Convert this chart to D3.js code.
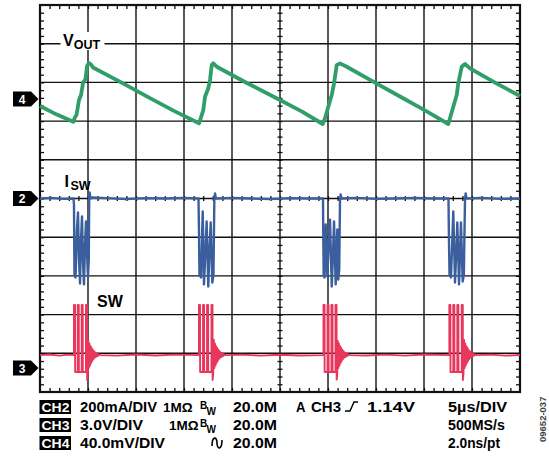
<!DOCTYPE html>
<html>
<head>
<meta charset="utf-8">
<script src="https://cdn.jsdelivr.net/npm/d3@7"></script>
<style>
  body { margin: 0; background: #fff; }
  svg text { font-family: "Liberation Sans", Arial, sans-serif; font-weight: bold; }
</style>
</head>
<body>
<svg id="scope" width="549" height="461"></svg>
<script>
// Scope settings (5 µs/div, 10 x 10 divisions).
const timeDomain = [0, 50];          // µs
const divDomain = [-5, 5];           // vertical divisions

// Channel ground markers (in divisions from screen centre) and scale per div.
const channelNames = ["4", "2", "3"];
const channelOffsets = [2.57, 0, -4.38];
const channelPerDiv = [40, 200, 3.0];   // mV, mA, V

// CH4: VOUT ripple [µs, mV]
const vout = [
  [0, -7.2], [1.7, -15.8], [3.47, -23.5], [3.65, -18.6], [3.8, -16.5], [3.96, -7.2], [4.06, -1.0],
  [4.27, 4.1], [4.48, 16.5], [4.74, 20.7], [4.9, 34.1], [5.1, 37.2], [5.31, 35.7], [5.52, 32.6],
  [8.5, 17.0], [11.46, 1.0], [14, -12.5], [16.56, -25.1], [16.74, -19.9], [17.01, -11.4], [17.19, 2.4],
  [17.53, 11.1], [17.71, 19.6], [17.89, 35.1], [18.05, 36.9], [18.41, 33.4], [21.5, 16.8],
  [25.0, -1.0], [27.3, -13.0], [29.45, -25.8], [29.69, -19.9], [30.03, -8.0], [30.39, 4.1],
  [30.63, 16.2], [30.91, 35.1], [31.25, 36.9], [31.95, 33.4], [34.8, 17.5], [37.5, 2.6],
  [40.1, -11.8], [42.53, -25.8], [42.71, -19.9], [43.05, -8.0], [43.41, 4.1], [43.57, 16.2],
  [43.93, 33.4], [44.27, 36.2], [44.79, 31.7], [47.4, 17.0], [50, 3.1]
];

// CH2: ISW [µs, mA]
const isw = [
  [0, 0], [1.2, 3], [2.4, -2], [3.49, 0],
  [3.54, -31], [3.59, -398], [3.7, -408], [3.85, -160], [3.96, -72], [4.06, -315], [4.17, -439],
  [4.27, -212], [4.375, -93], [4.48, -326], [4.58, -444], [4.69, -238], [4.79, -119], [4.9, -289],
  [5.0, -408], [5.08, -315], [5.125, -5], [5.17, 31], [5.26, 0], [5.42, 5],
  [7, 2], [9, -3], [11, 2], [13, 0], [15, 3], [16.51, 0],
  [16.56, -160], [16.61, -393], [16.77, -408], [16.95, -67], [17.08, -444], [17.24, -264],
  [17.36, -119], [17.53, -455], [17.66, -264], [17.78, -124], [17.95, -434], [18.07, -393],
  [18.16, -5], [18.23, 26], [18.33, 0],
  [20, 3], [22, 0], [24, -3], [26, 2], [28, 0], [29.48, 0],
  [29.51, -212], [29.55, -398], [29.64, -408], [29.76, -134], [29.93, -403], [30.05, -264],
  [30.21, -109], [30.39, -455], [30.52, -289], [30.63, -119], [30.8, -444], [30.97, -160],
  [31.07, -419], [31.17, -367], [31.25, -5], [31.32, 21], [31.41, 0],
  [33, 3], [35, -2], [37, 0], [39, 3], [41, 0], [42.55, 0],
  [42.6, -212], [42.66, -393], [42.81, -408], [43.05, -67], [43.23, -434], [43.37, -264],
  [43.47, -124], [43.65, -444], [43.75, -289], [43.85, -124], [44.03, -429], [44.15, -393],
  [44.27, -5], [44.34, 26], [44.43, 0],
  [46, 3], [48, -2], [50, 0]
];

// CH3: SW [µs, V]
const sw = [
  [0, 1.0], [1, 1.05], [2, 0.96], [3, 1.04], [3.54, 1.0],
  [3.54, 4.88], [3.65, 4.88], [3.66, -0.31], [3.93, -0.31], [3.93, 4.88], [4.04, 4.88], [4.05, -0.31],
  [4.34, -0.31], [4.34, 4.88], [4.45, 4.88], [4.46, -0.31], [4.79, -0.31], [4.79, 4.88], [4.9, 4.88],
  [4.91, -0.93], [4.97, -0.5], [5.03, 2.17], [5.09, 0.0], [5.15, 1.9], [5.21, 0.2], [5.27, 1.7],
  [5.33, 0.4], [5.39, 1.55], [5.45, 0.55], [5.51, 1.4], [5.57, 0.7], [5.63, 1.3], [5.69, 0.8],
  [5.75, 1.2], [5.81, 0.85], [5.87, 1.15], [5.93, 0.9], [5.99, 1.1], [6.05, 0.95], [6.15, 1.05], [6.3, 1.0],
  [8, 0.96], [10, 1.05], [12, 0.97], [14, 1.04], [16.56, 1.0],
  [16.56, 4.88], [16.67, 4.88], [16.68, -0.31], [16.98, -0.31], [16.98, 4.88], [17.09, 4.88], [17.1, -0.31],
  [17.4, -0.31], [17.4, 4.88], [17.51, 4.88], [17.52, -0.31], [17.86, -0.31], [17.86, 4.88], [17.97, 4.88],
  [17.98, -0.93], [18.04, -0.5], [18.1, 2.2], [18.16, 0.0], [18.22, 1.9], [18.28, 0.2], [18.34, 1.7],
  [18.4, 0.4], [18.46, 1.55], [18.52, 0.55], [18.58, 1.4], [18.64, 0.7], [18.7, 1.3], [18.76, 0.8],
  [18.82, 1.2], [18.88, 0.85], [18.94, 1.15], [19.0, 0.9], [19.06, 1.1], [19.12, 0.95], [19.22, 1.05], [19.4, 1.0],
  [21, 1.04], [23, 0.96], [25, 1.03], [27, 0.97], [29.53, 1.0],
  [29.53, 4.88], [29.64, 4.88], [29.65, -0.31], [29.95, -0.31], [29.95, 4.88], [30.06, 4.88], [30.07, -0.31],
  [30.36, -0.31], [30.36, 4.88], [30.47, 4.88], [30.48, -0.31], [30.78, -0.31], [30.78, 4.88], [30.89, 4.88],
  [30.9, -0.9], [30.96, -0.5], [31.02, 2.1], [31.08, 0.0], [31.14, 1.9], [31.2, 0.2], [31.26, 1.7],
  [31.32, 0.4], [31.38, 1.55], [31.44, 0.55], [31.5, 1.4], [31.56, 0.7], [31.62, 1.3], [31.68, 0.8],
  [31.74, 1.2], [31.8, 0.85], [31.86, 1.15], [31.92, 0.9], [31.98, 1.1], [32.04, 0.95], [32.14, 1.05], [32.3, 1.0],
  [34, 0.97], [36, 1.04], [38, 0.96], [40, 1.05], [42.64, 1.0],
  [42.64, 4.88], [42.75, 4.88], [42.76, -0.31], [43.05, -0.31], [43.05, 4.88], [43.16, 4.88], [43.17, -0.31],
  [43.47, -0.31], [43.47, 4.88], [43.58, 4.88], [43.59, -0.31], [43.93, -0.31], [43.93, 4.88], [44.04, 4.88],
  [44.05, -0.93], [44.11, -0.5], [44.17, 2.17], [44.23, 0.0], [44.29, 1.9], [44.35, 0.2], [44.41, 1.7],
  [44.47, 0.4], [44.53, 1.55], [44.59, 0.55], [44.65, 1.4], [44.71, 0.7], [44.77, 1.3], [44.83, 0.8],
  [44.89, 1.2], [44.95, 0.85], [45.01, 1.15], [45.07, 0.9], [45.13, 1.1], [45.19, 0.95], [45.29, 1.05], [45.45, 1.0],
  [47, 1.04], [48.5, 0.96], [50, 1.0]
];

// Readout text.
const chTags = ["CH2", "CH3", "CH4"];
const voltsDiv = ["200mA/DIV", "3.0V/DIV", "40.0mV/DIV"];
const impedance = ["1MΩ", "1MΩ", ""];
const bwLimit = ["20.0M", "20.0M", "20.0M"];
const timeInfo = ["5µs/DIV", "500MS/s", "2.0ns/pt"];

// Build scales.
const x = d3.scaleLinear().domain(timeDomain).range([40, 520]);
const yDiv = d3.scaleLinear().domain(divDomain).range([392, 5]);

const svg = d3.select('#scope');

// Grid.
const grid = svg.append('g').attr('stroke', '#111').attr('stroke-width', 1.4);
grid.selectAll('.vgrid')
  .data(d3.range(5, 50, 5))
  .join('line')
    .attr('x1', d => x(d)).attr('x2', d => x(d))
    .attr('y1', yDiv(5)).attr('y2', yDiv(-5));
grid.selectAll('.hgrid')
  .data(d3.range(-4, 5, 1))
  .join('line')
    .attr('x1', x(0)).attr('x2', x(50))
    .attr('y1', d => yDiv(d)).attr('y2', d => yDiv(d));

// Minor ticks (5 per division) on frame and centre axes.
const minorT = d3.range(1, 50, 1);
const minorV = d3.range(-4.8, 5, 0.2).map(d => +d.toFixed(1));

function noDomain(g) { g.select('.domain').remove(); g.selectAll('.tick line').attr('stroke', '#111').attr('stroke-width', 1.3); }

svg.append('g').attr('transform', `translate(0,${yDiv(5)})`)
  .call(d3.axisBottom(x).tickValues(minorT).tickSize(4).tickFormat(''))
  .call(noDomain);
svg.append('g').attr('transform', `translate(0,${yDiv(-5)})`)
  .call(d3.axisTop(x).tickValues(minorT).tickSize(4).tickFormat(''))
  .call(noDomain);
svg.append('g').attr('transform', `translate(${x(0)},0)`)
  .call(d3.axisRight(yDiv).tickValues(minorV).tickSize(4).tickFormat(''))
  .call(noDomain);
svg.append('g').attr('transform', `translate(${x(50)},0)`)
  .call(d3.axisLeft(yDiv).tickValues(minorV).tickSize(4).tickFormat(''))
  .call(noDomain);
// centre axes, ticks crossing the line
svg.append('g').attr('transform', `translate(0,${yDiv(0) - 2.5})`)
  .call(d3.axisBottom(x).tickValues(minorT).tickSize(5).tickFormat(''))
  .call(noDomain);
svg.append('g').attr('transform', `translate(${x(25) - 2.5},0)`)
  .call(d3.axisRight(yDiv).tickValues(minorV).tickSize(5).tickFormat(''))
  .call(noDomain);

// Frame.
svg.append('rect')
  .attr('x', x(0)).attr('y', yDiv(5))
  .attr('width', x(50) - x(0)).attr('height', yDiv(-5) - yDiv(5))
  .attr('fill', 'none').attr('stroke', '#111').attr('stroke-width', 2.2);

// Traces.
const traces = [
  {data: vout, ch: 0, color: '#2f9e68', width: 3.8},
  {data: isw, ch: 1, color: '#3b5f9e', width: 2.4},
  {data: sw, ch: 2, color: '#e8365c', width: 1.9}
];

traces.forEach(tr => {
  const line = d3.line()
    .x(d => x(d[0]))
    .y(d => yDiv(channelOffsets[tr.ch] + d[1] / channelPerDiv[tr.ch]));
  svg.append('path')
    .datum(tr.data)
    .attr('d', line)
    .attr('fill', 'none')
    .attr('stroke', tr.color)
    .attr('stroke-width', tr.width)
    .attr('stroke-linejoin', 'round');
});

// Channel ground markers.
const markers = svg.append('g');
channelNames.forEach((name, i) => {
  const cy = yDiv(channelOffsets[i]);
  markers.append('path')
    .attr('d', `M13,${cy - 7.5}H31L38.5,${cy}L31,${cy + 7.5}H13Z`)
    .attr('fill', '#000');
  markers.append('text')
    .attr('x', 22).attr('y', cy + 4.5)
    .attr('text-anchor', 'middle')
    .attr('font-size', 12).attr('fill', '#fff')
    .text(name);
});

// Trace labels.
svg.append('rect').attr('x', 60.5).attr('y', 32).attr('width', 44).attr('height', 18).attr('fill', '#fff');
const vlab = svg.append('text').attr('x', 63).attr('y', 45.5).attr('font-size', 16);
vlab.append('tspan').text('V');
vlab.append('tspan').attr('dy', 3.5).attr('font-size', 12.5).text('OUT');

const ilab = svg.append('text').attr('x', 64.5).attr('y', 187).attr('font-size', 16);
ilab.append('tspan').text('I');
ilab.append('tspan').attr('dx', 1.5).attr('dy', 3).attr('font-size', 12.5).text('SW');

svg.append('text').attr('x', 97).attr('y', 307).attr('font-size', 16).text('SW');

// Readout (widths fitted to the reference).
const rowY = [412, 430, 448];
const fs = 15;
function label(xp, yp, str, len) {
  const t = svg.append('text').attr('x', xp).attr('y', yp).attr('font-size', fs).text(str);
  if (len) t.attr('textLength', len).attr('lengthAdjust', 'spacingAndGlyphs');
  return t;
}
const voltsLen = [77, 63, 85];
const impX = [163, 169];
const timeLen = [59, 57, 52];

chTags.forEach((tag, i) => {
  svg.append('rect').attr('x', 39.5).attr('y', rowY[i] - 12).attr('width', 31.5).attr('height', 14).attr('fill', '#000');
  svg.append('text').attr('x', 41.5).attr('y', rowY[i]).attr('font-size', 13.5).attr('fill', '#fff')
    .attr('textLength', 28).attr('lengthAdjust', 'spacingAndGlyphs').text(tag);
  label(80, rowY[i], voltsDiv[i], voltsLen[i]);
  if (impedance[i]) {
    svg.append('text').attr('x', impX[i]).attr('y', rowY[i]).attr('font-size', 13.5).text(impedance[i]);
    // bandwidth limit mark: raised B, lowered W
    svg.append('text').attr('x', 200).attr('y', rowY[i] - 3.5).attr('font-size', 10).text('B');
    svg.append('text').attr('x', 206.5).attr('y', rowY[i] + 2.5).attr('font-size', 10).text('W');
  } else {
    // AC coupling symbol
    const sx = 212, sy = rowY[i] - 5;
    svg.append('path')
      .attr('d', `M${sx},${sy + 3}C${sx},${sy - 7} ${sx + 5},${sy - 7} ${sx + 5},${sy}C${sx + 5},${sy + 7} ${sx + 10},${sy + 7} ${sx + 10},${sy - 3}`)
      .attr('fill', 'none').attr('stroke', '#000').attr('stroke-width', 1.6);
  }
  label(233, rowY[i], bwLimit[i], 44);
  label(448, rowY[i], timeInfo[i], timeLen[i]);
});

// Trigger readout.
label(296, rowY[0], 'A', 9.5);
label(311, rowY[0], 'CH3', 30);
svg.append('path')
  .attr('d', `M345,${rowY[0] - 1}H350L354,${rowY[0] - 10}H358`)
  .attr('fill', 'none').attr('stroke', '#000').attr('stroke-width', 1.4);
label(367, rowY[0], '1.14V', 48);

// Figure code.
svg.append('text')
  .attr('transform', 'translate(546,442) rotate(-90)')
  .attr('font-size', 9.5).attr('font-weight', 'normal').attr('fill', '#444')
  .text('09652-037');
</script>
</body>
</html>
